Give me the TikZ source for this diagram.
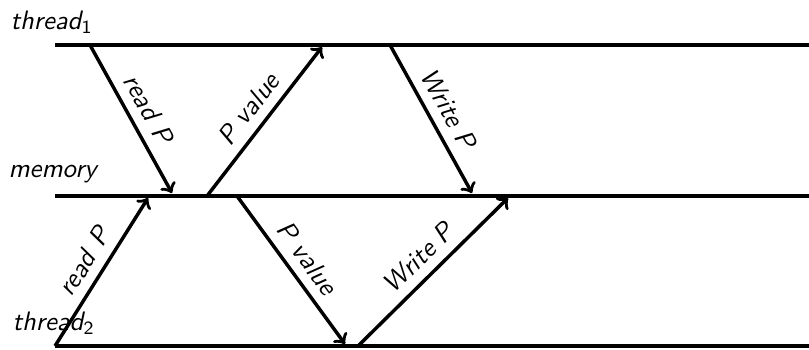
\documentclass[tikz,border=0pt]{standalone}
\begin{document}
\begin{tikzpicture}[x=0.375pt,y=-0.375pt,
  font=\sffamily\itshape\fontsize{10}{12}\selectfont,
  timeline/.style={line width=1.5pt},
  msg/.style={line width=1.3pt,->},
  lbl/.style={sloped,above,inner sep=3.5pt,midway}]
\useasboundingbox (0,0) rectangle (809,349);
% lines
\coordinate (t1a) at (55,45);  \coordinate (t1b) at (809,45);
\coordinate (ma)  at (55,196); \coordinate (mb)  at (809,196);
\coordinate (t2a) at (55,346); \coordinate (t2b) at (809,346);
\draw[timeline] (t1a) -- (t1b);
\draw[timeline] (ma) -- (mb);
\draw[timeline] (t2a) -- (t2b);
\node[anchor=west,inner sep=0pt] (lt1) at (10,22) {thread\textsubscript{\upshape 1}};
\node[anchor=west,inner sep=0pt] (lm) at (8,174) {memory};
\node[anchor=west,inner sep=0pt] (lt2) at (12,323) {thread\textsubscript{\upshape 2}};
% message end points
\coordinate (a1s) at (90,45);   \coordinate (a1e) at (172,193);
\coordinate (a2s) at (207,196); \coordinate (a2e) at (322,47);
\coordinate (a3s) at (390,45);  \coordinate (a3e) at (472,193);
\coordinate (b1s) at (55,346);  \coordinate (b1e) at (148,198);
\coordinate (b2s) at (237,196); \coordinate (b2e) at (345,344);
\coordinate (b3s) at (358,346); \coordinate (b3e) at (508,198);
\draw[msg] (a1s) -- node[lbl] (la1) {read\hspace{0.4em}P} (a1e);
\draw[msg] (a2s) -- node[lbl] (la2) {P value} (a2e);
\draw[msg] (a3s) -- node[lbl] (la3) {Write P} (a3e);
\draw[msg] (b1s) -- node[lbl] (lb1) {read\hspace{0.4em}P} (b1e);
\draw[msg] (b2s) -- node[lbl] (lb2) {P value} (b2e);
\draw[msg] (b3s) -- node[lbl] (lb3) {Write P} (b3e);
\end{tikzpicture}
\end{document}
